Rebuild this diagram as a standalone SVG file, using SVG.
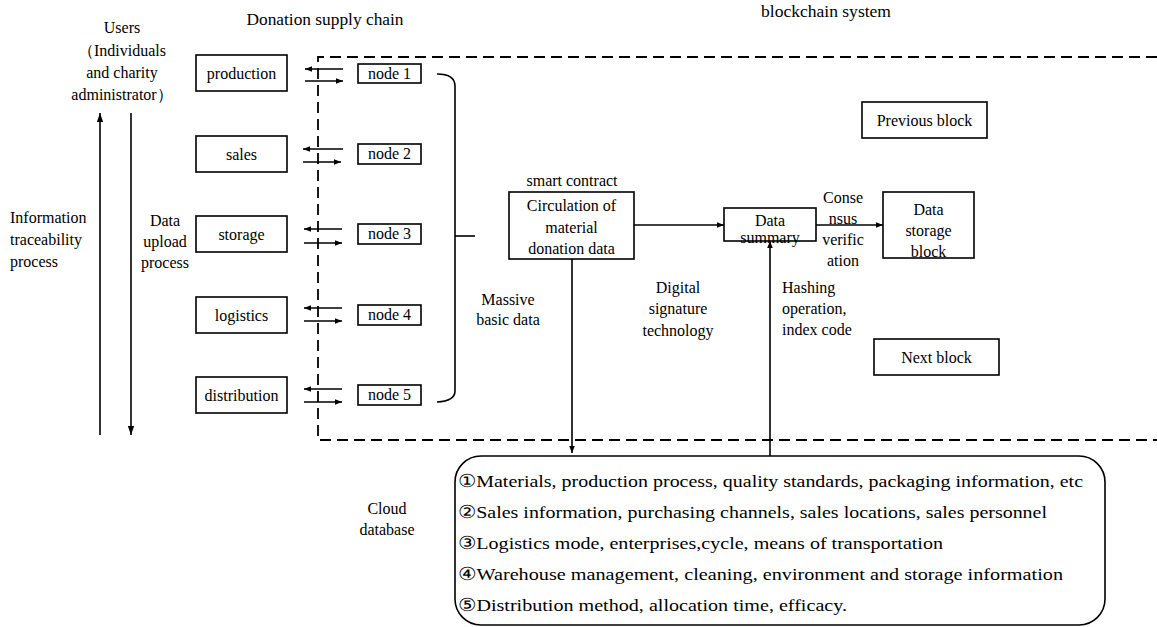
<svg xmlns="http://www.w3.org/2000/svg" width="1157" height="627" viewBox="0 0 1157 627">
<style>
text{font-family:'Liberation Serif','DejaVu Serif','Times New Roman',serif;font-size:16px;fill:#000}
.m{text-anchor:middle}
.box{fill:#fff;stroke:#000;stroke-width:1.6}
.ln{fill:none;stroke:#000;stroke-width:1.6}
.dash{fill:none;stroke:#000;stroke-width:1.8;stroke-dasharray:11 6}
.db{font-size:17.5px}
</style>
<defs>
<marker id="ah" viewBox="0 0 10 10" refX="10" refY="5" markerWidth="7" markerHeight="7" markerUnits="userSpaceOnUse" orient="auto">
<path d="M0,1 L10,5 L0,9 Z" fill="#000"/>
</marker>
<marker id="ahs" viewBox="0 0 10 10" refX="10" refY="5" markerWidth="9" markerHeight="9" markerUnits="userSpaceOnUse" orient="auto">
<path d="M0,1.5 L10,5 L0,8.5 Z" fill="#000"/>
</marker>
</defs>
<rect width="1157" height="627" fill="#fff"/>

<g id="labels">
<text class="m" x="122" y="33">Users</text>
<text class="m" x="122" y="56">（Individuals</text>
<text class="m" x="122" y="78">and charity</text>
<text class="m" x="122" y="100">administrator）</text>
<text class="m" x="325" y="25" textLength="157" lengthAdjust="spacingAndGlyphs">Donation supply chain</text>
<text class="m" x="826" y="17" textLength="130" lengthAdjust="spacingAndGlyphs">blockchain system</text>
<text x="10" y="223">Information</text>
<text x="10" y="245">traceability</text>
<text x="10" y="267">process</text>
<text class="m" x="165" y="226">Data</text>
<text class="m" x="165" y="247">upload</text>
<text class="m" x="165" y="268">process</text>
<text class="m" x="508" y="305">Massive</text>
<text class="m" x="508" y="325">basic data</text>
<text class="m" x="678" y="293">Digital</text>
<text class="m" x="678" y="314">signature</text>
<text class="m" x="678" y="336">technology</text>
<text x="782" y="293">Hashing</text>
<text x="782" y="314">operation,</text>
<text x="782" y="335">index code</text>
<text class="m" x="843" y="203">Conse</text>
<text class="m" x="843" y="224">nsus</text>
<text class="m" x="843" y="245">verific</text>
<text class="m" x="843" y="266">ation</text>
<text class="m" x="572" y="186">smart contract</text>
<text class="m" x="387" y="514">Cloud</text>
<text class="m" x="387" y="535">database</text>
</g>

<g id="boundary">
<path class="dash" d="M1157,57 H318 V440 H1157"/>
</g>

<g id="production"><rect class="box" x="196" y="55" width="91" height="36"/><text class="m" x="241.5" y="79">production</text></g>
<g id="sales"><rect class="box" x="196" y="136" width="91" height="36"/><text class="m" x="241.5" y="160">sales</text></g>
<g id="storage"><rect class="box" x="196" y="216" width="91" height="36"/><text class="m" x="241.5" y="240">storage</text></g>
<g id="logistics"><rect class="box" x="196" y="297" width="91" height="36"/><text class="m" x="241.5" y="321">logistics</text></g>
<g id="distribution"><rect class="box" x="196" y="377" width="91" height="36"/><text class="m" x="241.5" y="401">distribution</text></g>

<g id="node1"><rect class="box" x="358" y="64" width="63" height="19"/><text class="m" x="389.5" y="79">node 1</text></g>
<g id="node2"><rect class="box" x="358" y="144" width="63" height="20"/><text class="m" x="389.5" y="159">node 2</text></g>
<g id="node3"><rect class="box" x="358" y="224" width="63" height="20"/><text class="m" x="389.5" y="239">node 3</text></g>
<g id="node4"><rect class="box" x="358" y="305" width="63" height="20"/><text class="m" x="389.5" y="320">node 4</text></g>
<g id="node5"><rect class="box" x="358" y="385" width="63" height="20"/><text class="m" x="389.5" y="400">node 5</text></g>

<g id="smart-contract"><rect class="box" x="509" y="192" width="125" height="67"/>
<text class="m" x="571.5" y="211">Circulation of</text>
<text class="m" x="571.5" y="233">material</text>
<text class="m" x="571.5" y="254">donation data</text></g>

<g id="data-summary"><rect class="box" x="724" y="208" width="92" height="33"/>
<text class="m" x="770" y="226">Data</text>
<text class="m" x="770" y="243">summary</text></g>

<g id="data-storage-block"><rect class="box" x="883" y="192" width="91" height="66"/>
<text class="m" x="928.5" y="215">Data</text>
<text class="m" x="928.5" y="236">storage</text>
<text class="m" x="928.5" y="257">block</text></g>

<g id="previous-block"><rect class="box" x="862" y="102" width="125" height="36"/><text class="m" x="924.5" y="126">Previous block</text></g>
<g id="next-block"><rect class="box" x="874" y="339" width="125" height="36"/><text class="m" x="936.5" y="363">Next block</text></g>

<g id="cloud-database"><rect class="box" x="455" y="456" width="650" height="169" rx="26" ry="26"/>
<text class="db" x="458" y="487" textLength="625" lengthAdjust="spacingAndGlyphs">①Materials, production process, quality standards, packaging information, etc</text>
<text class="db" x="458" y="518" textLength="589" lengthAdjust="spacingAndGlyphs">②Sales information, purchasing channels, sales locations, sales personnel</text>
<text class="db" x="458" y="549" textLength="485" lengthAdjust="spacingAndGlyphs">③Logistics mode, enterprises,cycle, means of transportation</text>
<text class="db" x="458" y="580" textLength="605" lengthAdjust="spacingAndGlyphs">④Warehouse  management, cleaning, environment and storage information</text>
<text class="db" x="458" y="611" textLength="389" lengthAdjust="spacingAndGlyphs">⑤Distribution method, allocation time, efficacy.</text></g>

<g id="connectors">
<line class="ln" x1="100" y1="435" x2="100" y2="113" marker-end="url(#ahs)"/>
<line class="ln" x1="131" y1="113" x2="131" y2="435" marker-end="url(#ahs)"/>

<line class="ln" x1="343" y1="69" x2="305" y2="69" marker-end="url(#ah)"/>
<line class="ln" x1="305" y1="81" x2="343" y2="81" marker-end="url(#ah)"/>
<line class="ln" x1="343" y1="149" x2="303" y2="149" marker-end="url(#ah)"/>
<line class="ln" x1="303" y1="162" x2="341" y2="162" marker-end="url(#ah)"/>
<line class="ln" x1="342" y1="229" x2="304" y2="229" marker-end="url(#ah)"/>
<line class="ln" x1="304" y1="243" x2="342" y2="243" marker-end="url(#ah)"/>
<line class="ln" x1="342" y1="308" x2="304" y2="308" marker-end="url(#ah)"/>
<line class="ln" x1="304" y1="321" x2="342" y2="321" marker-end="url(#ah)"/>
<line class="ln" x1="342" y1="389" x2="304" y2="389" marker-end="url(#ah)"/>
<line class="ln" x1="304" y1="402" x2="342" y2="402" marker-end="url(#ah)"/>

<path class="ln" d="M437,74 Q455,74 455,86 V391 Q455,401 437,402"/>
<line class="ln" x1="455" y1="236" x2="475" y2="236"/>

<line class="ln" x1="634" y1="225" x2="724" y2="225" marker-end="url(#ah)"/>
<line class="ln" x1="816" y1="225" x2="883" y2="225" marker-end="url(#ah)"/>
<line class="ln" x1="572" y1="259" x2="572" y2="453" marker-end="url(#ah)"/>
<line class="ln" x1="770" y1="456" x2="770" y2="241" marker-end="url(#ah)"/>
</g>
</svg>
